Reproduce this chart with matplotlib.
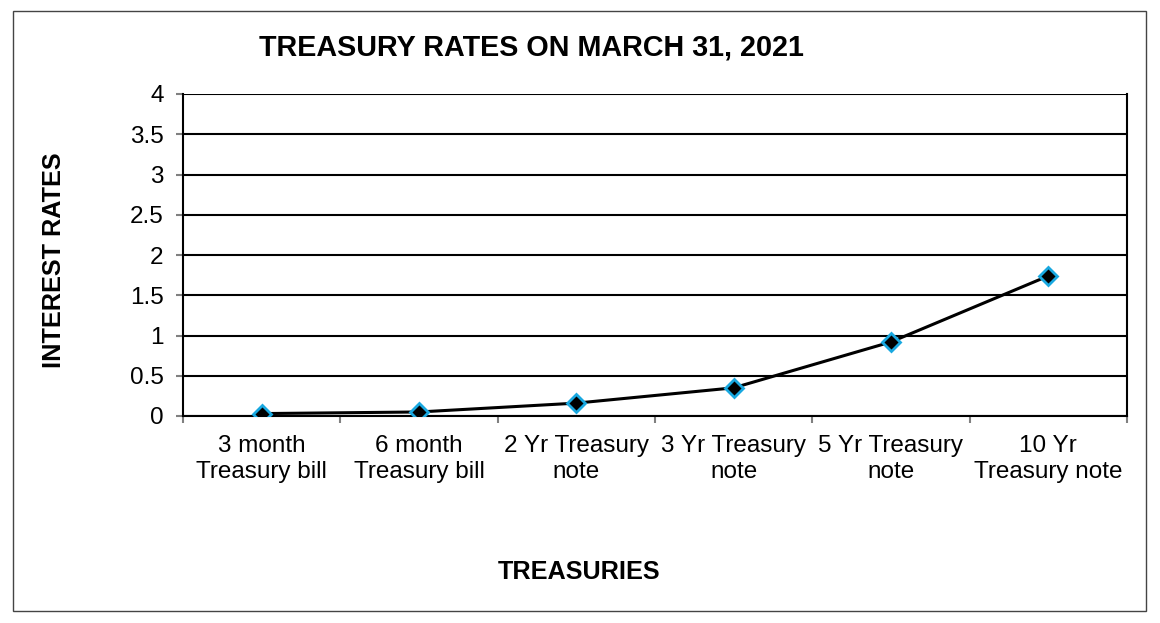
import matplotlib
matplotlib.use("Agg")
import matplotlib.pyplot as plt
from matplotlib.patches import Rectangle

categories = ["3 month\nTreasury bill", "6 month\nTreasury bill", "2 Yr Treasury\nnote",
              "3 Yr Treasury\nnote", "5 Yr Treasury\nnote", "10 Yr\nTreasury note"]
rates = [0.03, 0.05, 0.16, 0.35, 0.92, 1.74]
yticks = [0, 0.5, 1, 1.5, 2, 2.5, 3, 3.5, 4]
ytick_labels = ["0", "0.5", "1", "1.5", "2", "2.5", "3", "3.5", "4"]

plt.rcParams['font.family'] = ['Liberation Sans', 'DejaVu Sans']

W, H = 1160, 623
fig = plt.figure(figsize=(W / 100, H / 100), dpi=100)
fig.patches.append(Rectangle((13 / W, 1 - 611 / H), (1146 - 13) / W, (611 - 11) / H,
                             transform=fig.transFigure, fill=False, edgecolor='#444444', lw=1))

ax = fig.add_axes([183 / W, 1 - 416 / H, (1127 - 183) / W, (416 - 94) / H])
x = [i + 0.5 for i in range(len(categories))]
ax.plot(x, rates, color='black', lw=2.2, marker='D', markersize=9,
        markerfacecolor='black', markeredgecolor='#19A8E0', markeredgewidth=2, zorder=3)
ax.set_xlim(0, len(categories))
ax.set_ylim(0, 4)
ax.set_yticks(yticks)
ax.set_yticklabels(ytick_labels, fontsize=17.5)
ax.set_xticks(range(len(categories) + 1))
ax.set_xticklabels([])
ax.set_xticks(x, minor=True)
ax.set_xticklabels(categories, minor=True, fontsize=17.5, linespacing=1.22)
ax.tick_params(axis='x', which='minor', length=0, pad=14)
ax.tick_params(axis='x', which='major', length=5, color='#808080', width=1.5)
ax.tick_params(axis='y', length=5, color='#808080', width=1.5, pad=9)
ax.yaxis.grid(True, color='black', lw=1.5)
ax.set_axisbelow(True)
for s in ax.spines.values():
    s.set_color('black')
    s.set_linewidth(1.5)
ax.spines['top'].set_visible(False)

fig.text(531 / W, 1 - 48 / H, "TREASURY RATES ON MARCH 31, 2021", ha='center', va='center',
         fontsize=20.7, fontweight='bold')
fig.text(579 / W, 1 - 572 / H, "TREASURIES", ha='center', va='center',
         fontsize=18.2, fontweight='bold')
fig.text(54 / W, 1 - 260 / H, "INTEREST RATES", ha='center', va='center',
         fontsize=18.2, fontweight='bold', rotation=90)

fig.savefig("out.png", dpi=100)
